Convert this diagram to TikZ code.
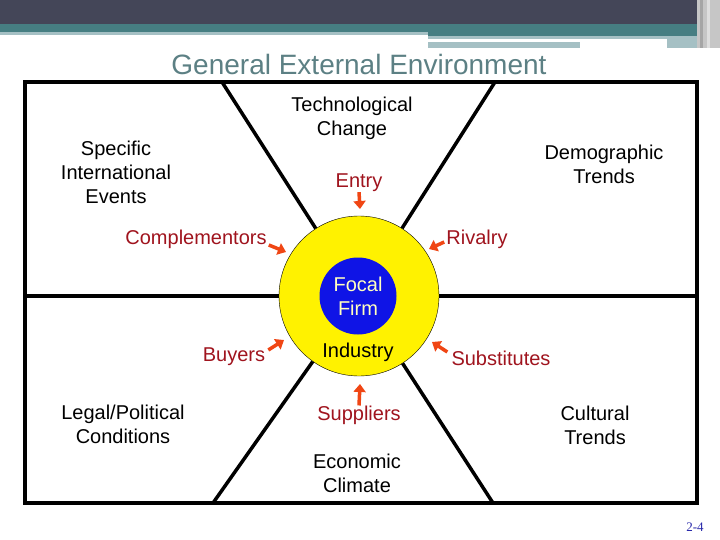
\documentclass[tikz,border=0pt]{standalone}
\usepackage{fontspec}
\setmainfont{Liberation Sans}
\newfontfamily\pagefont{Liberation Serif}
\usetikzlibrary{arrows.meta, calc}
\definecolor{banner}{RGB}{68,70,88}
\definecolor{bandteal}{RGB}{70,126,130}
\definecolor{lightteal}{RGB}{165,192,196}
\definecolor{titlegray}{RGB}{92,128,132}
\definecolor{forcered}{RGB}{160,20,30}
\definecolor{pushred}{RGB}{240,70,20}
\definecolor{firmblue}{RGB}{15,20,230}
\definecolor{firmtext}{RGB}{255,255,190}
\definecolor{pagenavy}{RGB}{40,40,170}

\begin{document}
\begin{tikzpicture}[%
  x = 1pt, y = -1pt,
  env/.style = {align = center, inner sep = 0pt, font = \fontsize{20}{24}\selectfont},
  force/.style = {env, text = forcered},
  push/.style = {-{Triangle[length = 8pt, width = 12pt]}, line width = 3.5pt, pushred},
  spoke/.style = {line width = 3.5pt}]
  \fill[white] (0, 0) rectangle (720, 540);
  % slide banner
  \fill[banner] (0, 0) rectangle (720, 24);
  \fill[bandteal] (0, 24) rectangle (697, 32);
  \fill[lightteal] (0, 32) rectangle (428, 35);
  \fill[bandteal] (428, 32) rectangle (697, 36);
  \fill[lightteal] (428, 36) rectangle (697, 48);
  \fill[white] (428, 39) rectangle (667, 42);
  \fill[white] (580, 42) rectangle (667, 48);
  \fill[gray!45] (697, 0) rectangle (720, 48);
  \fill[gray!70] (700, 0) rectangle (703, 48);
  \fill[gray!25] (707, 0) rectangle (710, 48);

  \node[text = titlegray, font = \fontsize{28}{30}\selectfont] (title) at (359, 64) {General External Environment};

  \draw[spoke] (25, 82) rectangle (697, 503);
  \node[circle, draw, fill = yellow, minimum size = 160pt, inner sep = 0pt] (ring) at (359, 296) {};
  \node[env, circle, fill = firmblue, text = firmtext, minimum size = 77pt] (firm) at (358, 296) {Focal\\Firm};
  \node[env] (industry) at (358, 352) {Industry};

  \coordinate (tl) at (222, 82);
  \coordinate (tr) at (495, 82);
  \coordinate (ml) at (25, 296);
  \coordinate (mr) at (697, 296);
  \coordinate (bl) at (213, 503);
  \coordinate (br) at (493, 503);
  \draw[spoke] (tl) -- (ring);
  \draw[spoke] (tr) -- (ring);
  \draw[spoke] (ml) -- (ring);
  \draw[spoke] (mr) -- (ring);
  \draw[spoke] (bl) -- (ring);
  \draw[spoke] (br) -- (ring);

  \node[env] (tech) at (352, 118) {Technological\\Change};
  \node[env] (intl) at (116, 172) {Specific\\International\\Events};
  \node[env] (demo) at (604, 164) {Demographic\\Trends};
  \node[env] (legal) at (123, 424) {Legal/Political\\Conditions};
  \node[env] (cult) at (595, 425) {Cultural\\Trends};
  \node[env] (econ) at (357, 473) {Economic\\Climate};

  \node[force] (entry) at (359, 183) {Entry};
  \node[force] (compl) at (196, 239) {Complementors};
  \node[force] (rival) at (477, 239) {Rivalry};
  \node[force] (buyers) at (234, 357) {Buyers};
  \node[force] (subst) at (501, 358) {Substitutes};
  \node[force] (suppl) at (359, 415) {Suppliers};

  \coordinate (entry-to) at (360, 209);
  \coordinate (compl-to) at (286, 252);
  \coordinate (rival-to) at (429, 249);
  \coordinate (buyers-to) at (284, 340);
  \coordinate (subst-to) at (432, 342);
  \coordinate (suppl-to) at (360, 384);
  \draw[push] (entry.south) -- (entry-to);
  \draw[push] ($(compl.east) + (2, 6)$) -- (compl-to);
  \draw[push] ($(rival.west) + (-2, 3)$) -- (rival-to);
  \draw[push] ($(buyers.east) + (3, -7)$) -- (buyers-to);
  \draw[push] ($(subst.west) + (-4, -6)$) -- (subst-to);
  \draw[push] (suppl.north) -- (suppl-to);

  \node[text = pagenavy, font = \pagefont\fontsize{13}{15}\selectfont] (pageno) at (695, 527) {2-4};
\end{tikzpicture}
\end{document}
